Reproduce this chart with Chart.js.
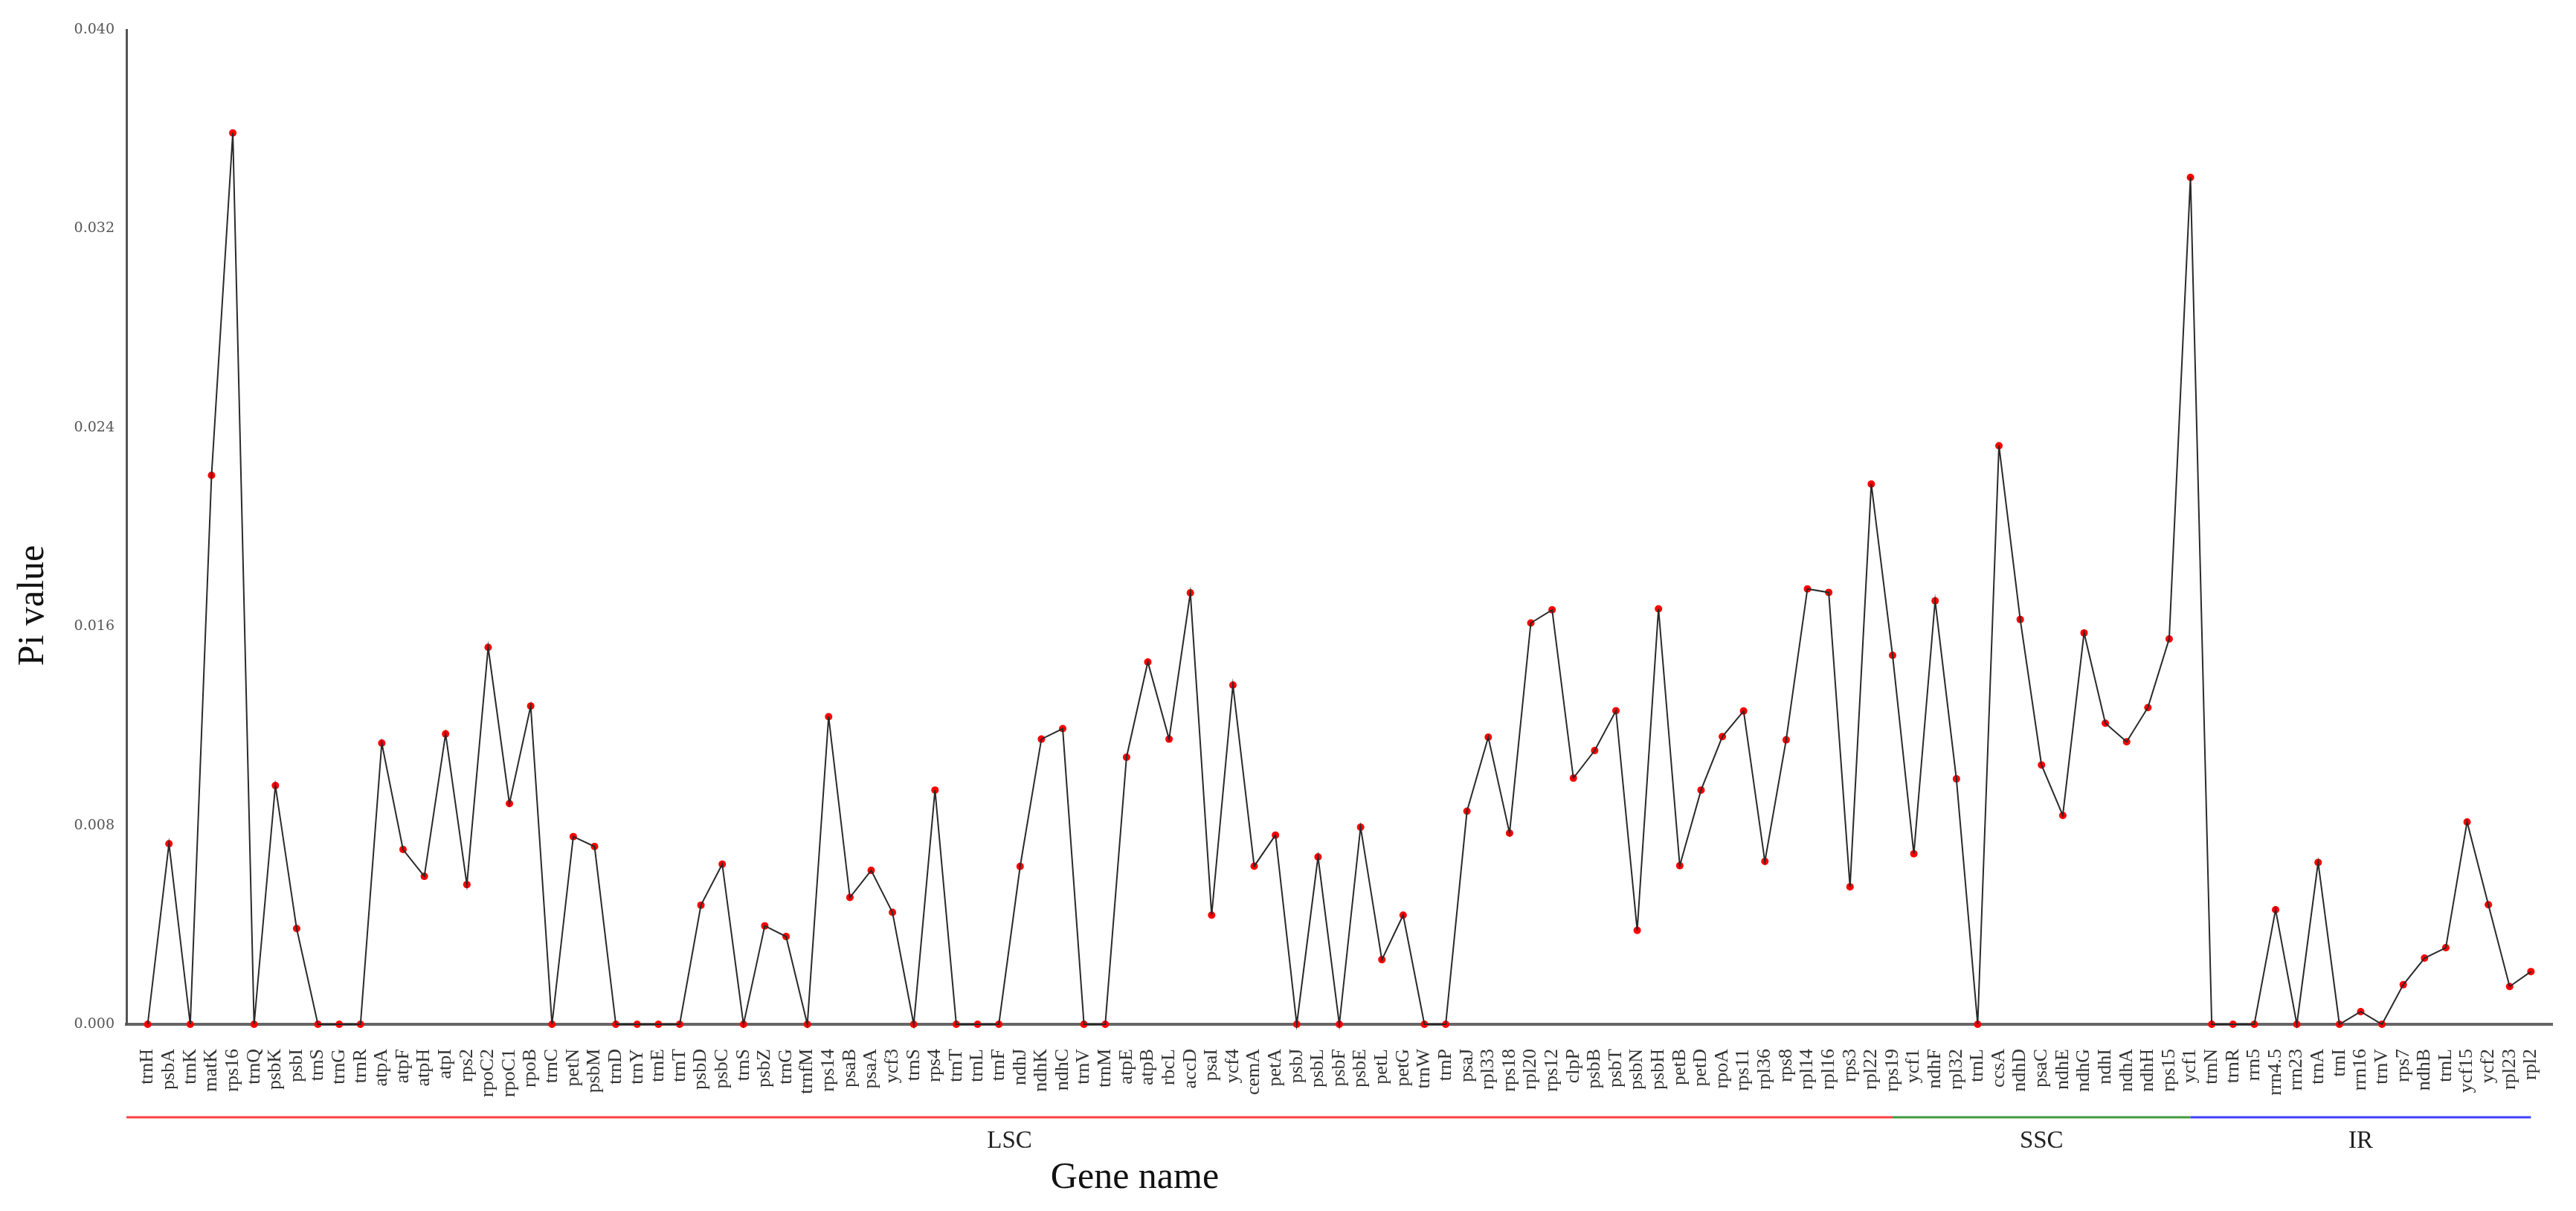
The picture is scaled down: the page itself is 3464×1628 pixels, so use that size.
<!DOCTYPE html>
<html>
<head>
<meta charset="utf-8">
<title>Pi value by gene</title>
<script src="https://cdn.jsdelivr.net/npm/chart.js@4.4.1/dist/chart.umd.min.js"></script>
<style>
  html, body { margin: 0; padding: 0; background: #fff; }
  canvas { display: block; }
</style>
</head>
<body>
<canvas id="piChart" width="3464" height="1628"></canvas>
<script>
// gene order along the chloroplast genome
const genes = [
  'trnH', 'psbA', 'trnK', 'matK', 'rps16', 'trnQ', 'psbK', 'psbI', 'trnS', 'trnG',
  'trnR', 'atpA', 'atpF', 'atpH', 'atpI', 'rps2', 'rpoC2', 'rpoC1', 'rpoB', 'trnC',
  'petN', 'psbM', 'trnD', 'trnY', 'trnE', 'trnT', 'psbD', 'psbC', 'trnS', 'psbZ',
  'trnG', 'trnfM', 'rps14', 'psaB', 'psaA', 'ycf3', 'trnS', 'rps4', 'trnT', 'trnL',
  'trnF', 'ndhJ', 'ndhK', 'ndhC', 'trnV', 'trnM', 'atpE', 'atpB', 'rbcL', 'accD',
  'psaI', 'ycf4', 'cemA', 'petA', 'psbJ', 'psbL', 'psbF', 'psbE', 'petL', 'petG',
  'trnW', 'trnP', 'psaJ', 'rpl33', 'rps18', 'rpl20', 'rps12', 'clpP', 'psbB', 'psbT',
  'psbN', 'psbH', 'petB', 'petD', 'rpoA', 'rps11', 'rpl36', 'rps8', 'rpl14', 'rpl16',
  'rps3', 'rpl22', 'rps19', 'ycf1', 'ndhF', 'rpl32', 'trnL', 'ccsA', 'ndhD', 'psaC',
  'ndhE', 'ndhG', 'ndhI', 'ndhA', 'ndhH', 'rps15', 'ycf1', 'trnN', 'trnR', 'rrn5',
  'rrn4.5', 'rrn23', 'trnA', 'trnI', 'rrn16', 'trnV', 'rps7', 'ndhB', 'trnL', 'ycf15',
  'ycf2', 'rpl23', 'rpl2'
];

const piValues = [
  0, 0.00726, 0, 0.02208, 0.03585, 0, 0.0096, 0.00385, 0, 0,
  0, 0.01131, 0.00703, 0.00595, 0.01168, 0.00562, 0.01516, 0.00888, 0.0128, 0,
  0.00755, 0.00715, 0, 0, 0, 0, 0.00479, 0.00644, 0, 0.00396,
  0.00353, 0, 0.01237, 0.0051, 0.00619, 0.0045, 0, 0.00942, 0, 0,
  0, 0.00635, 0.01147, 0.01189, 0, 0, 0.01074, 0.01457, 0.01147, 0.01735,
  0.00439, 0.01364, 0.00636, 0.00761, 0, 0.00673, 0, 0.00793, 0.0026, 0.00439,
  0, 0, 0.00857, 0.01155, 0.00769, 0.01614, 0.01667, 0.0099, 0.01101, 0.01261,
  0.00378, 0.01671, 0.00638, 0.00942, 0.01157, 0.0126, 0.00655, 0.01144, 0.01751, 0.01737,
  0.00553, 0.02173, 0.01484, 0.00686, 0.01703, 0.00987, 0, 0.02327, 0.01628, 0.01043,
  0.0084, 0.01574, 0.01211, 0.01136, 0.01274, 0.0155, 0.03406, 0, 0, 0,
  0.00461, 0, 0.00651, 0, 0.00051, 0, 0.00159, 0.00266, 0.00308, 0.00814,
  0.00481, 0.00152, 0.00212
];

const yTicks = [0, 0.008, 0.016, 0.024, 0.032, 0.040];

// genome regions, bounds given as gene index (-1 = start of axis)
const regionNames = ['LSC', 'SSC', 'IR'];
const regionBounds = [-1, 82, 96, 112];
const regionColors = ['#ff4040', '#3f9a3f', '#4040ff'];

const points = piValues.map((v, i) => ({ x: i, y: v }));

// region bars + axis titles drawn under the gene labels
const regionPlugin = {
  id: 'regions',
  afterDraw(chart) {
    const { ctx, chartArea, scales: { x } } = chart;
    const barY = chartArea.bottom + 125;
    ctx.save();
    regionNames.forEach((name, i) => {
      const x0 = x.getPixelForValue(regionBounds[i]);
      const x1 = x.getPixelForValue(regionBounds[i + 1]);
      ctx.strokeStyle = regionColors[i];
      ctx.lineWidth = 3;
      ctx.beginPath();
      ctx.moveTo(x0, barY);
      ctx.lineTo(x1, barY);
      ctx.stroke();
      ctx.fillStyle = '#222';
      ctx.font = '33px "Liberation Serif", serif';
      ctx.textAlign = 'center';
      ctx.textBaseline = 'middle';
      ctx.fillText(name, (x0 + x1) / 2, barY + 32);
    });

    ctx.fillStyle = '#111';
    ctx.font = '50px "Liberation Serif", serif';
    ctx.textAlign = 'center';
    ctx.textBaseline = 'middle';
    ctx.fillText('Gene name', 1526, chartArea.bottom + 207);

    ctx.translate(45, 814);
    ctx.rotate(-Math.PI / 2);
    ctx.fillText('Pi value', 0, 0);
    ctx.restore();
  }
};

const ctx = document.getElementById('piChart').getContext('2d');

const piChart = new Chart(ctx, {
  type: 'line',
  data: {
    datasets: [
      {
        label: 'Pi points',
        data: points,
        showLine: false,
        pointRadius: 5,
        pointBackgroundColor: '#ff0000',
        pointBorderWidth: 0,
        clip: false,
        order: 2
      },
      {
        label: 'Pi value',
        data: points,
        borderColor: '#2a2a2a',
        borderWidth: 2,
        pointRadius: 0,
        tension: 0,
        fill: false,
        clip: false,
        order: 1
      }
    ]
  },
  options: {
    responsive: false,
    animation: false,
    layout: { padding: { top: 40, right: 32, bottom: 0, left: 0 } },
    plugins: {
      legend: { display: false },
      tooltip: { enabled: false }
    },
    scales: {
      x: {
        type: 'linear',
        min: -1,
        max: genes.length,
        grid: { display: false, drawTicks: false },
        border: { display: true, color: '#666', width: 4 },
        afterFit: (scale) => {
          scale.height = 251;
          scale.paddingLeft = 0;
          scale.paddingRight = 0;
        },
        ticks: {
          stepSize: 1,
          autoSkip: false,
          minRotation: 90,
          maxRotation: 90,
          padding: 33,
          color: '#333',
          font: { family: '"Liberation Serif", serif', size: 26 },
          callback: (v) => genes[v] ?? ''
        }
      },
      y: {
        min: 0,
        max: 0.04,
        grid: { display: false, drawTicks: false },
        border: { display: true, color: '#555', width: 3 },
        afterFit: (scale) => { scale.width = 170; },
        afterBuildTicks: (scale) => { scale.ticks = yTicks.map(v => ({ value: v })); },
        ticks: {
          padding: 16,
          color: '#555',
          font: { family: '"DejaVu Serif", serif', size: 19 },
          callback: (v) => v.toFixed(3)
        }
      }
    }
  },
  plugins: [regionPlugin]
});
</script>
</body>
</html>
